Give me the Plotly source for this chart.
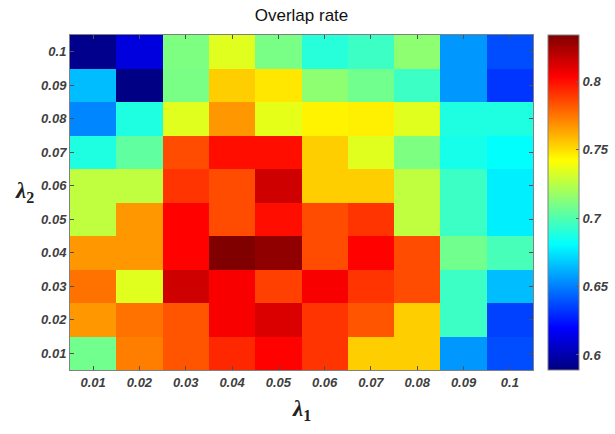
import plotly.graph_objects as go

lambda1 = ["0.01", "0.02", "0.03", "0.04", "0.05", "0.06", "0.07", "0.08", "0.09", "0.1"]
lambda2 = ["0.01", "0.02", "0.03", "0.04", "0.05", "0.06", "0.07", "0.08", "0.09", "0.1"]

# rows: lambda2 = 0.01 (bottom) ... 0.1 (top); columns: lambda1 = 0.01 ... 0.1
row_001 = [0.708, 0.773, 0.783, 0.794, 0.803, 0.791, 0.754, 0.754, 0.656, 0.638]
row_002 = [0.767, 0.776, 0.783, 0.805, 0.812, 0.791, 0.783, 0.754, 0.695, 0.635]
row_003 = [0.776, 0.735, 0.815, 0.805, 0.788, 0.805, 0.791, 0.785, 0.695, 0.665]
row_004 = [0.767, 0.767, 0.803, 0.834, 0.830, 0.785, 0.803, 0.785, 0.708, 0.698]
row_005 = [0.727, 0.767, 0.803, 0.785, 0.800, 0.785, 0.791, 0.727, 0.695, 0.677]
row_006 = [0.727, 0.727, 0.791, 0.785, 0.815, 0.754, 0.754, 0.727, 0.695, 0.677]
row_007 = [0.688, 0.704, 0.785, 0.800, 0.800, 0.754, 0.735, 0.711, 0.686, 0.681]
row_008 = [0.652, 0.688, 0.735, 0.767, 0.736, 0.745, 0.746, 0.735, 0.688, 0.688]
row_009 = [0.665, 0.590, 0.710, 0.754, 0.748, 0.715, 0.708, 0.695, 0.656, 0.632]
row_010 = [0.592, 0.612, 0.711, 0.735, 0.710, 0.690, 0.695, 0.715, 0.656, 0.638]

z = [row_001, row_002, row_003, row_004, row_005, row_006, row_007, row_008, row_009, row_010]

cbar_ticks = [0.6, 0.65, 0.7, 0.75, 0.8]

jet = [
    [0.0, "rgb(0,0,128)"],
    [0.125, "rgb(0,0,255)"],
    [0.375, "rgb(0,255,255)"],
    [0.625, "rgb(255,255,0)"],
    [0.875, "rgb(255,0,0)"],
    [1.0, "rgb(128,0,0)"],
]

tick_font = dict(family="Arial", size=13, color="#404040")

fig = go.Figure(
    go.Heatmap(
        x=lambda1,
        y=lambda2,
        z=z,
        colorscale=jet,
        zmin=0.589,
        zmax=0.834,
        xgap=0,
        ygap=0,
        colorbar=dict(
            x=1.032,
            xanchor="left",
            xpad=0,
            ypad=0,
            y=0.5,
            yanchor="middle",
            len=1.0,
            lenmode="fraction",
            thickness=31,
            thicknessmode="pixels",
            outlinecolor="#808080",
            outlinewidth=1,
            tickvals=cbar_ticks,
            ticktext=["<b><i>%g</i></b>" % v for v in cbar_ticks],
            tickfont=tick_font,
            ticks="inside",
            ticklen=3,
            tickcolor="#606060",
        ),
    )
)

fig.update_layout(
    width=615,
    height=434,
    margin=dict(l=70, r=82, t=35, b=64, autoexpand=False),
    paper_bgcolor="white",
    plot_bgcolor="white",
    title=dict(
        text="Overlap rate",
        x=(70 + 533) / 2 / 615,
        xanchor="center",
        y=1 - 15 / 434,
        yanchor="middle",
        font=dict(family="Arial", size=17, color="#111111"),
    ),
    xaxis=dict(
        tickvals=lambda1,
        ticktext=["<b><i>%s</i></b>" % v for v in lambda1],
        tickfont=tick_font,
        ticks="inside",
        ticklen=4,
        tickcolor="#505050",
        showline=True,
        linecolor="#808080",
        mirror="ticks",
        showgrid=False,
        zeroline=False,
    ),
    yaxis=dict(
        tickvals=lambda2,
        ticktext=["<b><i>%s</i></b>" % v for v in lambda2],
        tickfont=tick_font,
        ticks="inside",
        ticklen=4,
        tickcolor="#505050",
        showline=True,
        linecolor="#808080",
        mirror="ticks",
        showgrid=False,
        zeroline=False,
    ),
    annotations=[
        dict(
            text="<b><i>λ</i></b><sub><b>1</b></sub>",
            xref="paper",
            yref="paper",
            x=0.5,
            y=-0.12,
            xanchor="center",
            yanchor="middle",
            showarrow=False,
            font=dict(family="Liberation Serif", size=23, color="#222222"),
        ),
        dict(
            text="<b><i>λ</i></b><sub><b>2</b></sub>",
            xref="paper",
            yref="paper",
            x=-0.098,
            y=0.53,
            xanchor="center",
            yanchor="middle",
            showarrow=False,
            font=dict(family="Liberation Serif", size=23, color="#222222"),
        ),
    ],
)

fig.write_html("out.html")
